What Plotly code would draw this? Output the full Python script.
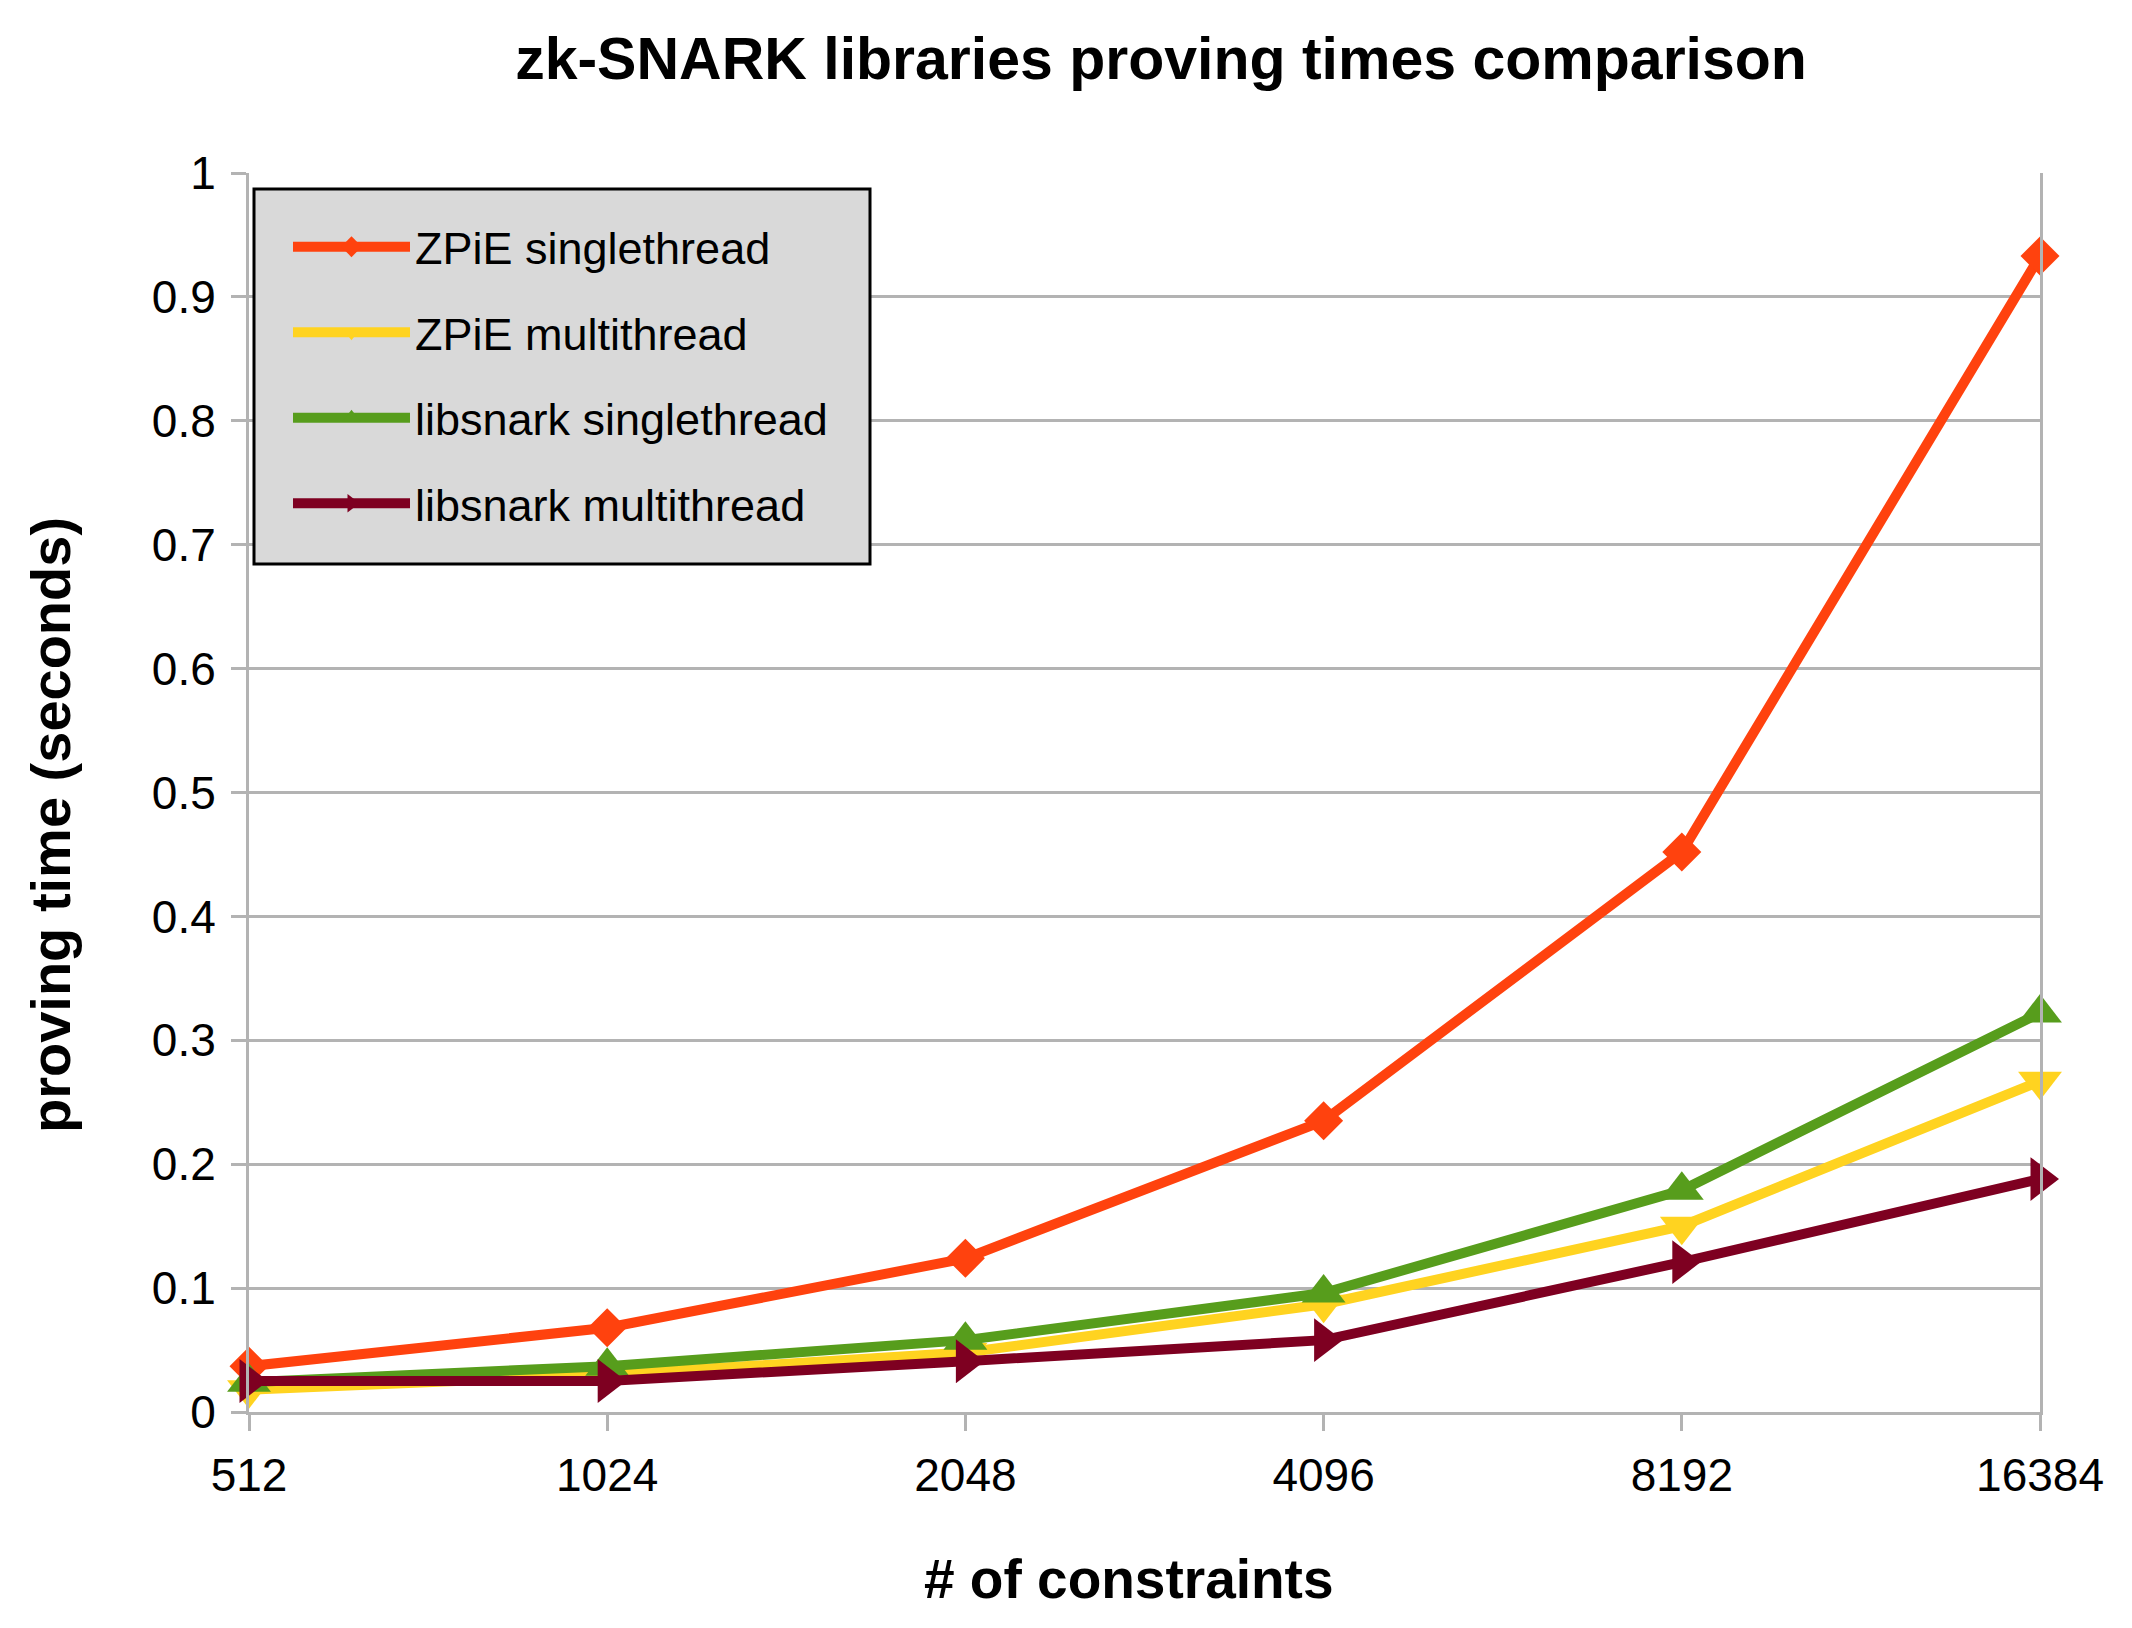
import plotly.graph_objects as go

constraints = ["512", "1024", "2048", "4096", "8192", "16384"]
zpie_single = [0.037, 0.068, 0.124, 0.235, 0.452, 0.933]
zpie_multi = [0.018, 0.030, 0.048, 0.087, 0.150, 0.267]
libsnark_single = [0.024, 0.037, 0.058, 0.096, 0.179, 0.322]
libsnark_multi = [0.025, 0.025, 0.041, 0.058, 0.121, 0.188]
y_ticks = [0, 0.1, 0.2, 0.3, 0.4, 0.5, 0.6, 0.7, 0.8, 0.9, 1]
y_tick_labels = ["0", "0.1", "0.2", "0.3", "0.4", "0.5", "0.6", "0.7", "0.8", "0.9", "1"]

series = [
    ("ZPiE singlethread", zpie_single, "#ff420e", "diamond", 30),
    ("ZPiE multithread", zpie_multi, "#ffd320", "triangle-down", 38),
    ("libsnark singlethread", libsnark_single, "#579d1c", "triangle-up", 38),
    ("libsnark multithread", libsnark_multi, "#7e0021", "triangle-right", 38),
]

FONT = "Liberation Sans, Arial, sans-serif"
W, H = 2132, 1628
L, R, T, B = 241, 100, 165, 224
PW, PH = W - L - R, H - T - B


def px(x):
    return (x - L) / PW


def py(y):
    return (H - B - y) / PH


fig = go.Figure()
for i, (name, vals, color, sym, size) in enumerate(series):
    fig.add_trace(go.Scatter(
        x=constraints, y=vals, name=name, mode="lines+markers",
        line=dict(color=color, width=10),
        marker=dict(symbol=sym, size=size, color=color, line=dict(width=0)),
        cliponaxis=False, legendgroup=f"g{i}",
    ))

fig.update_layout(
    width=W, height=H,
    margin=dict(l=L, r=R, t=T, b=B),
    paper_bgcolor="white", plot_bgcolor="white",
    font=dict(family=FONT, size=46, color="black"),
    title=dict(text="<b>zk-SNARK libraries proving times comparison</b>",
               x=1153 / W, xref="container", xanchor="center",
               y=1 - 50 / H, yanchor="middle",
               font=dict(family=FONT, size=59, color="black")),
    showlegend=True,
    legend=dict(x=px(280), y=py(203), xanchor="left", yanchor="top",
                bgcolor="rgba(0,0,0,0)", borderwidth=0,
                font=dict(family=FONT, size=45, color="black"),
                itemwidth=117, tracegroupgap=24, traceorder="grouped"),
    xaxis=dict(type="category", range=[0, 5], showgrid=False,
               showline=True, linecolor="#b3b3b3", linewidth=3,
               ticks="outside", ticklen=16, tickwidth=3, tickcolor="#b3b3b3",
               ticklabelstandoff=5,
               tickfont=dict(family=FONT, size=46, color="black"),
               zeroline=False),
    yaxis=dict(range=[0, 1], tickvals=y_ticks, ticktext=y_tick_labels,
               showgrid=True, gridcolor="#b3b3b3", gridwidth=3,
               showline=True, linecolor="#b3b3b3", linewidth=3, mirror=True,
               ticks="outside", ticklen=15, tickwidth=3, tickcolor="#b3b3b3",
               ticklabelstandoff=6,
               tickfont=dict(family=FONT, size=46, color="black"),
               zeroline=False),
    shapes=[
        dict(type="rect", xref="paper", yref="paper",
             x0=px(246), x1=px(862), y0=py(556), y1=py(181),
             fillcolor="#d9d9d9", line=dict(color="black", width=3),
             layer="above"),
    ],
    annotations=[
        dict(text="<b># of constraints</b>", xref="paper", yref="paper",
             x=px(1121), y=py(1571),
             xanchor="center", yanchor="middle", showarrow=False,
             font=dict(family=FONT, size=55, color="black")),
        dict(text="<b>proving time (seconds)</b>", xref="paper", yref="paper",
             x=px(43), y=py(817), textangle=-90,
             xanchor="center", yanchor="middle", showarrow=False,
             font=dict(family=FONT, size=56, color="black")),
    ],
)

fig.write_html("out.html")
